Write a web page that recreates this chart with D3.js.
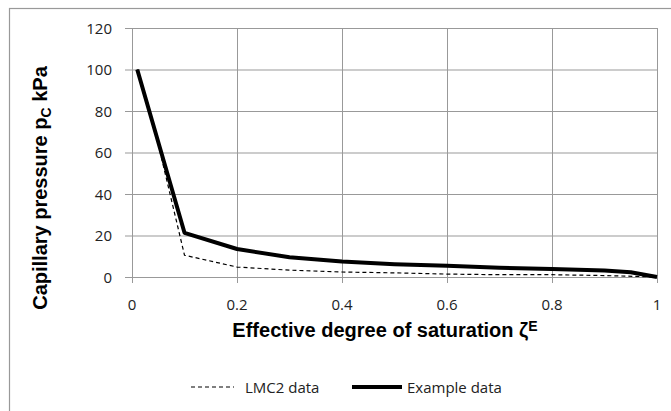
<!DOCTYPE html>
<html>
<head>
<meta charset="utf-8">
<script src="https://cdn.jsdelivr.net/npm/d3@7"></script>
<style>
  body { margin: 0; background: #fff; }
  text { font-family: "Open Sans", "Liberation Sans", sans-serif; }
</style>
</head>
<body>
<div id="chart-area"></div>
<script>
// data
var xTicks = [0, 0.2, 0.4, 0.6, 0.8, 1];
var yTicks = [0, 20, 40, 60, 80, 100, 120];

var exampleX = [0.01, 0.1, 0.2, 0.3, 0.4, 0.5, 0.6, 0.7, 0.8, 0.9, 0.95, 1];
var exampleY = [100, 21.3, 13.5, 9.5, 7.5, 6.2, 5.4, 4.4, 3.8, 3.1, 2.3, 0];

var lmcX = [0.01, 0.05, 0.1, 0.2, 0.3, 0.4, 0.5, 0.6, 0.7, 0.8, 0.9, 1];
var lmcY = [100, 64, 10.5, 4.8, 3.3, 2.4, 2.0, 1.4, 1.1, 1.1, 0.7, 0];

var width = 671, height = 411;
var margin = {left: 132, right: 14, top: 28, bottom: 134};
var chartWidth = width - margin.left - margin.right;
var chartHeight = height - margin.top - margin.bottom;
var grid = "#999";

var svg = d3.select("#chart-area").append("svg").attr("width", width).attr("height", height);

// outer frame
svg.append("rect").attr("x", 9.5).attr("y", 8.5).attr("width", width).attr("height", height)
	.attr("fill", "none").attr("stroke", grid).attr("stroke-width", 1.2);

var graph = svg.append("g").attr("transform", "translate(" + margin.left + "," + margin.top + ")");

var x = d3.scaleLinear().domain([0, 1]).range([0, chartWidth]);
var y = d3.scaleLinear().domain([0, 120]).range([chartHeight, 0]);

// gridlines
graph.append("g").selectAll("line").data(xTicks).enter().append("line")
	.attr("x1", (d) => x(d) + 0.5).attr("x2", (d) => x(d) + 0.5)
	.attr("y1", 0).attr("y2", chartHeight + 6)
	.attr("stroke", grid);
graph.append("g").selectAll("line").data(yTicks).enter().append("line")
	.attr("y1", (d) => y(d) + 0.5).attr("y2", (d) => y(d) + 0.5)
	.attr("x1", -7).attr("x2", chartWidth)
	.attr("stroke", grid);

// tick labels
graph.append("g").selectAll("text").data(yTicks).enter().append("text")
	.attr("x", -20).attr("y", (d) => y(d) + 5.5)
	.attr("text-anchor", "end").attr("font-size", "15px").attr("fill", "#222")
	.text((d) => d);
graph.append("g").selectAll("text").data(xTicks).enter().append("text")
	.attr("x", (d) => x(d)).attr("y", chartHeight + 33)
	.attr("text-anchor", "middle").attr("font-size", "15px").attr("fill", "#222")
	.text((d) => d);

// series
var line = d3.line().x((d) => x(d[0])).y((d) => y(d[1]));
var lmcData = d3.zip(lmcX, lmcY);
var exampleData = d3.zip(exampleX, exampleY);

graph.append("path").datum(lmcData).attr("d", line)
	.attr("fill", "none").attr("stroke", "#000").attr("stroke-width", 1.2).attr("stroke-dasharray", "4,3");
graph.append("path").datum(exampleData).attr("d", line)
	.attr("fill", "none").attr("stroke", "#000").attr("stroke-width", 4).attr("stroke-linejoin", "round");

// axis titles
var yTitle = svg.append("text").attr("transform", "translate(47,188) rotate(-90)")
	.attr("text-anchor", "middle").attr("font-size", "20px").attr("font-weight", "bold")
	.style("font-family", "'Liberation Sans', Arial, sans-serif");
yTitle.append("tspan").text("Capillary pressure p");
yTitle.append("tspan").attr("font-size", "14px").attr("dy", 4).text("C");
yTitle.append("tspan").attr("dy", -4).text(" kPa");

var xTitle = svg.append("text").attr("x", 385).attr("y", 337)
	.attr("text-anchor", "middle").attr("font-size", "20px").attr("font-weight", "bold")
	.style("font-family", "'Liberation Sans', Arial, sans-serif");
xTitle.append("tspan").text("Effective degree of saturation ζ");
xTitle.append("tspan").attr("font-size", "14px").attr("dy", -6).text("E");

// legend
var legend = svg.append("g").attr("transform", "translate(0,387)");
legend.append("line").attr("x1", 191).attr("x2", 234).attr("y1", 0).attr("y2", 0)
	.attr("stroke", "#000").attr("stroke-width", 1.2).attr("stroke-dasharray", "4,3");
legend.append("text").attr("x", 245).attr("y", 5.5).attr("font-size", "15px").attr("fill", "#222").text("LMC2 data");
legend.append("line").attr("x1", 352).attr("x2", 402).attr("y1", 0).attr("y2", 0)
	.attr("stroke", "#000").attr("stroke-width", 4);
legend.append("text").attr("x", 407).attr("y", 5.5).attr("font-size", "15px").attr("fill", "#222").text("Example data");
</script>
</body>
</html>
